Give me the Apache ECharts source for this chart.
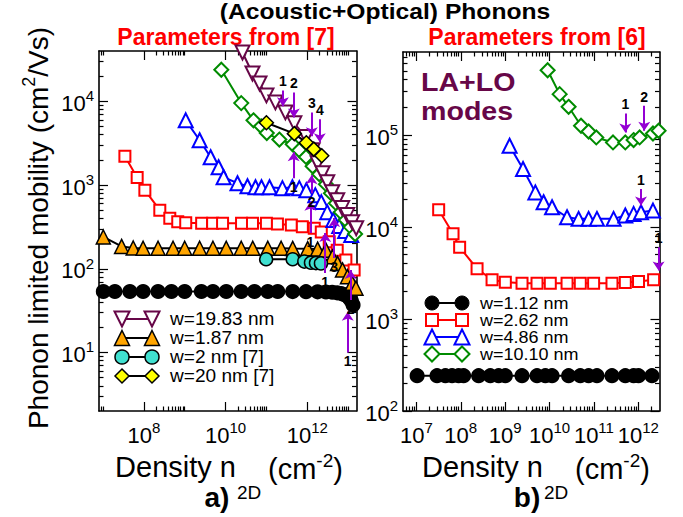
<!DOCTYPE html>
<html>
<head>
<meta charset="utf-8">
<title>Phonon limited mobility</title>
<script src="https://cdn.jsdelivr.net/npm/echarts@6/dist/echarts.min.js"></script>
<style>
html, body { margin: 0; padding: 0; background: #ffffff; }
#chart { width: 683px; height: 517px; }
</style>
</head>
<body>
<div id="chart"></div>
<script>
// ---------------- Panel a) : parameters from [7] ----------------
const aW112Density  = [1.02e7, 1.96e7, 4.56e7, 9.6e7, 2.23e8, 4.74e8, 1.0e9, 2.56e9, 4.91e9, 1.04e10, 2.42e10, 5.1e10, 1.08e11, 1.89e11, 4.39e11, 9.31e11, 1.79e12, 2.86e12, 4.07e12, 5.37e12, 6.76e12, 7.94e12, 9.55e12, 1.07e13, 1.2e13, 1.32e13];
const aW112Mobility = [53.5, 53.5, 53.5, 53.5, 53.5, 53.5, 53.5, 53.5, 53.5, 53.5, 53.5, 53.5, 53.5, 53.5, 53.4, 53.3, 53.1, 52.8, 52.4, 51.6, 50.6, 49.2, 47.2, 44.6, 41.2, 37];

const aW262Density  = [3.44e7, 6.87e7, 1.06e8, 2.46e8, 4.32e8, 6.76e8, 1.06e9, 2.6e9, 4.82e9, 8.45e9, 2.46e10, 4.56e10, 1.0e11, 1.86e11, 4.07e11, 7.57e11, 1.48e12, 2.2e12, 3.44e12, 5.4e12, 8.79e12, 1.4e13];
const aW262Mobility = [2210, 1230, 870, 502, 403, 366, 354, 349, 349, 349, 349, 349, 349, 342, 333, 318, 306, 275, 210, 167, 127, 97];

const aW486Density  = [1.06e9, 2.32e9, 4.32e9, 6.76e9, 8.95e9, 1.96e10, 3.44e10, 5.4e10, 7.57e10, 1.19e11, 2.46e11, 4.32e11, 6.38e11, 9.46e11, 1.57e12, 2.2e12, 3.08e12, 4.32e12, 6.04e12, 8.45e12, 1.19e13];
const aW486Mobility = [5940, 3430, 2150, 1635, 1240, 1054, 970, 944, 944, 944, 919, 944, 919, 869, 758, 626, 475, 382, 324, 282, 253];

const aW1010Density  = [7.87e9, 2.42e10, 4.82e10, 7.43e10, 1.02e11, 2.07e11, 4.39e11, 6.38e11, 9.31e11, 1.35e12, 1.96e12, 2.86e12, 3.79e12, 5.02e12, 6.65e12, 8.79e12, 1.16e13, 1.48e13];
const aW1010Mobility = [23900, 9540, 5940, 5040, 4190, 3500, 3070, 2610, 2170, 1680, 1350, 1025, 800, 608, 475, 382, 315, 260];

const aW1983Density  = [2.6e10, 4.56e10, 6.76e10, 1.0e11, 1.66e11, 2.91e11, 4.82e11, 9.31e11, 1.35e12, 1.79e12, 2.37e12, 3.08e12, 4.07e12, 5.4e12, 7.14e12, 9.46e12, 1.25e13, 1.57e13];
const aW1983Mobility = [38400, 21570, 16400, 11800, 9730, 7390, 5470, 3750, 2606, 1825, 1387, 1084, 823, 661, 531, 438, 361, 306];

const aW187Density  = [1.02e7, 2.86e7, 5.5e7, 9.6e7, 2.23e8, 5.19e8, 1.0e9, 2.32e9, 4.91e9, 1.04e10, 2.42e10, 4.63e10, 1.08e11, 2.29e11, 4.39e11, 1.02e12, 1.79e12, 2.86e12, 4.14e12, 5.5e12, 7.28e12, 9.62e12, 1.27e13, 1.55e13];
const aW187Mobility = [240, 185, 177, 176, 176, 176, 176, 176, 176, 176, 176, 176, 176, 176, 175, 174, 172, 167, 139, 116, 97, 80.5, 67, 58.6];

const aW2RefDensity  = [9.84e10, 4.39e11, 8.45e11, 1.23e12, 1.63e12, 2.16e12];
const aW2RefMobility = [130, 130, 122, 118, 117, 116];

const aW20RefDensity  = [9.98e10, 4.82e11, 9.46e11, 1.44e12, 2.26e12];
const aW20RefMobility = [5550, 4120, 3200, 2690, 2240];

// arrows marking subband onsets: density, tail mobility, head mobility, tag
const aArrowDensity = [2.53e11, 4.69e11, 1.29e12, 2.02e12, 4.64e11, 1.27e12, 1.19e12, 2.75e12, 4.56e12, 9.77e12, 1.15e13];
const aArrowFrom    = [13500, 12800, 7390, 6100, 1208, 800, 267, 89, 135, 10, 42.5];
const aArrowTo      = [8720, 6440, 3830, 3240, 2466, 1312, 631, 267, 404, 30.6, 97];
const aArrowTag     = ['1', '2', '3', '4', '1', '2', '1', '1', '3', '1', '2'];

// ---------------- Panel b) : parameters from [6] ----------------
const bW112Density  = [1.04e7, 2.92e7, 4.5e7, 6.37e7, 8.95e7, 1.16e8, 2.53e8, 4.63e8, 7.13e8, 1.01e9, 2.4e9, 5.22e9, 8.04e9, 1.14e10, 2.69e10, 4.93e10, 7.59e10, 1.17e11, 2.55e11, 5.09e11, 7.83e11, 1.01e12, 2.03e12];
const bW112Mobility = [242, 242, 242, 242, 242, 242, 242, 242, 242, 242, 242, 242, 242, 242, 242, 242, 242, 242, 242, 242, 242, 242, 242];

const bW262Density  = [3.18e7, 6.7e7, 9.44e7, 2.33e8, 5.07e8, 1.01e9, 2.4e9, 5.22e9, 1.04e10, 2.48e10, 4.93e10, 9.84e10, 2.55e11, 5.09e11, 1.01e12, 2.21e12];
const bW262Mobility = [15380, 8440, 6040, 3520, 2675, 2518, 2455, 2455, 2455, 2455, 2455, 2455, 2455, 2500, 2563, 2675];

const bW486Density  = [1.26e9, 2.53e9, 4.79e9, 7.36e9, 1.14e10, 2.48e10, 4.52e10, 7.59e10, 1.17e11, 2.77e11, 5.09e11, 7.83e11, 1.15e12, 2.14e12];
const bW486Mobility = [76600, 42800, 23800, 18570, 16400, 12770, 12270, 12270, 12270, 12270, 13340, 13900, 14480, 15100];

const bW1010Density  = [9.06e9, 1.69e10, 2.69e10, 5.12e10, 7.59e10, 1.13e11, 2.69e11, 5.09e11, 7.83e11, 1.07e12, 2.14e12, 2.86e12];
const bW1010Mobility = [507000, 278600, 202900, 126200, 109400, 94200, 83100, 83100, 88200, 94200, 104000, 111300];

const bArrowDensity = [5.09e11, 1.36e12, 1.15e12, 2.86e12];
const bArrowFrom    = [171600, 208000, 25900, 6040];
const bArrowTo      = [106700, 111300, 17100, 3370];
const bArrowTag     = ['1', '2', '1', '1'];

// ---------------- axes ----------------
const aDensityRange  = [8e6, 1.6e13];
const aMobilityRange = [2, 4e4];
const bDensityRange  = [5e6, 3e12];
const bMobilityRange = [100, 8e5];

const aDensityTicks  = [1e8, 1e10, 1e12];
const aMobilityTicks = [1e1, 1e2, 1e3, 1e4];
const bDensityTicks  = [1e7, 1e8, 1e9, 1e10, 1e11, 1e12];
const bMobilityTicks = [1e2, 1e3, 1e4, 1e5];

const FONT = '"Liberation Sans", Arial, Helvetica, sans-serif';
const COL = {
  black: '#000000', red: '#ff0000', blue: '#0000ff', green: '#008b00',
  maroon: '#670748', orange: '#ffa500', turquoise: '#40e0d0', yellow: '#ffff00', violet: '#9400d3'
};

// minor ticks: k * 10^d inside the range, for the listed decades
function minorTicks(range, decades, kMax) {
  const out = [];
  decades.forEach(function (d) {
    for (let k = 2; k <= kMax; k++) {
      const v = k * Math.pow(10, d);
      if (v > range[0] && v < range[1]) out.push(v);
    }
  });
  return out;
}

const powRich = {
  b: { fontSize: 22, fontFamily: FONT, color: '#000', lineHeight: 26, verticalAlign: 'bottom' },
  s: { fontSize: 15, fontFamily: FONT, color: '#000', lineHeight: 15, verticalAlign: 'top' }
};
function powLabel(v) {
  return '{b|10}{s|' + Math.round(Math.log10(v)) + '}';
}

function logAxis(grid, position, range, ticks, major, labels, margin) {
  return {
    gridIndex: grid, type: 'log', logBase: 10, min: range[0], max: range[1], position: position,
    axisLine: { show: major, lineStyle: { color: '#000', width: 1.6 } },
    axisTick: { show: true, inside: true, length: major ? 9 : 4.5, customValues: ticks,
                lineStyle: { color: '#000', width: 1.2 } },
    axisLabel: labels ? { show: true, customValues: ticks, formatter: powLabel, rich: powRich, margin: margin }
                      : { show: false },
    splitLine: { show: false }, minorTick: { show: false }, minorSplitLine: { show: false }
  };
}

const aXMinor = minorTicks(aDensityRange, [6, 8, 10, 12], 10);
const aYMinor = minorTicks(aMobilityRange, [0, 1, 2, 3, 4], 9);
const bXMinor = minorTicks(bDensityRange, [6, 7, 8, 9, 10, 11, 12], 9);
const bYMinor = minorTicks(bMobilityRange, [2, 3, 4, 5], 9);

const xAxes = [
  logAxis(0, 'bottom', aDensityRange, aDensityTicks, true, true, 9),
  logAxis(0, 'bottom', aDensityRange, aXMinor, false, false),
  logAxis(0, 'top', aDensityRange, aDensityTicks, true, false),
  logAxis(0, 'top', aDensityRange, aXMinor, false, false),
  logAxis(1, 'bottom', bDensityRange, bDensityTicks, true, true, 9),
  logAxis(1, 'bottom', bDensityRange, bXMinor, false, false),
  logAxis(1, 'top', bDensityRange, bDensityTicks, true, false),
  logAxis(1, 'top', bDensityRange, bXMinor, false, false)
];
const yAxes = [
  logAxis(0, 'left', aMobilityRange, aMobilityTicks, true, true, 5),
  logAxis(0, 'left', aMobilityRange, aYMinor, false, false),
  logAxis(0, 'right', aMobilityRange, aMobilityTicks, true, false),
  logAxis(0, 'right', aMobilityRange, aYMinor, false, false),
  logAxis(1, 'left', bMobilityRange, bMobilityTicks, true, true, 5),
  logAxis(1, 'left', bMobilityRange, bYMinor, false, false),
  logAxis(1, 'right', bMobilityRange, bMobilityTicks, true, false),
  logAxis(1, 'right', bMobilityRange, bYMinor, false, false)
];

// ---------------- series ----------------
function zip(xs, ys) { return xs.map(function (x, i) { return [x, ys[i]]; }); }

function curve(name, grid, xs, ys, s) {
  return {
    name: name, type: 'line', xAxisIndex: grid * 4, yAxisIndex: grid * 4,
    data: zip(xs, ys),
    symbol: s.symbol, symbolSize: s.size, symbolRotate: s.rotate || 0,
    showAllSymbol: true,
    lineStyle: { color: s.line, width: s.lineWidth || 2 },
    itemStyle: { color: s.fill, borderColor: s.stroke, borderWidth: s.border || 2, opacity: 1 },
    emphasis: { disabled: true },
    z: s.z || 2
  };
}

function arrows(grid, xs, from, to, tags) {
  return {
    type: 'line', xAxisIndex: grid * 4, yAxisIndex: grid * 4, data: [], z: 10,
    markLine: {
      silent: true, animation: false,
      symbol: ['none', 'arrow'], symbolSize: 9,
      lineStyle: { color: COL.violet, width: 2, type: 'solid' },
      label: { show: true, position: 'start', formatter: '{b}', color: '#000',
               fontWeight: 'bold', fontSize: 14, fontFamily: FONT, distance: 2 },
      data: xs.map(function (x, i) {
        return [{ name: tags[i], coord: [x, from[i]] }, { coord: [x, to[i]] }];
      })
    }
  };
}

const series = [
  curve('w=1.12 nm', 0, aW112Density, aW112Mobility, { symbol: 'circle', size: 13, fill: COL.black, stroke: COL.black, border: 0, line: COL.black }),
  curve('w=2.62 nm', 0, aW262Density, aW262Mobility, { symbol: 'rect', size: 11, fill: '#fff', stroke: COL.red, line: COL.red }),
  curve('w=4.86 nm', 0, aW486Density, aW486Mobility, { symbol: 'triangle', size: 14, fill: '#fff', stroke: COL.blue, line: COL.blue }),
  curve('w=10.10 nm', 0, aW1010Density, aW1010Mobility, { symbol: 'diamond', size: 14, fill: '#fff', stroke: COL.green, line: COL.green }),
  curve('w=19.83 nm', 0, aW1983Density, aW1983Mobility, { symbol: 'triangle', rotate: 180, size: 14, fill: '#fff', stroke: COL.maroon, line: COL.maroon }),
  curve('w=1.87 nm', 0, aW187Density, aW187Mobility, { symbol: 'triangle', size: 14, fill: COL.orange, stroke: COL.black, border: 1.5, line: COL.black }),
  curve('w=2 nm [7]', 0, aW2RefDensity, aW2RefMobility, { symbol: 'circle', size: 13, fill: COL.turquoise, stroke: COL.black, border: 1.5, line: COL.black }),
  curve('w=20 nm [7]', 0, aW20RefDensity, aW20RefMobility, { symbol: 'diamond', size: 14, fill: COL.yellow, stroke: COL.black, border: 1.5, line: COL.black }),
  arrows(0, aArrowDensity, aArrowFrom, aArrowTo, aArrowTag),

  curve('w=1.12 nm', 1, bW112Density, bW112Mobility, { symbol: 'circle', size: 13, fill: COL.black, stroke: COL.black, border: 0, line: COL.black }),
  curve('w=2.62 nm', 1, bW262Density, bW262Mobility, { symbol: 'rect', size: 11, fill: '#fff', stroke: COL.red, line: COL.red }),
  curve('w=4.86 nm', 1, bW486Density, bW486Mobility, { symbol: 'triangle', size: 14, fill: '#fff', stroke: COL.blue, line: COL.blue }),
  curve('w=10.10 nm', 1, bW1010Density, bW1010Mobility, { symbol: 'diamond', size: 14, fill: '#fff', stroke: COL.green, line: COL.green }),
  arrows(1, bArrowDensity, bArrowFrom, bArrowTo, bArrowTag)
];

// ---------------- legends and captions ----------------
function legendSymbol(type, cx, cy, size, fill, stroke, lw) {
  const h = size / 2;
  const style = { fill: fill, stroke: stroke, lineWidth: lw };
  if (type === 'circle') return { type: 'circle', shape: { cx: cx, cy: cy, r: h }, style: style };
  if (type === 'rect') return { type: 'rect', shape: { x: cx - h, y: cy - h, width: size, height: size }, style: style };
  let pts;
  if (type === 'triangle') pts = [[cx, cy - h], [cx + h, cy + h], [cx - h, cy + h]];
  else if (type === 'triangleDown') pts = [[cx - h, cy - h], [cx + h, cy - h], [cx, cy + h]];
  else pts = [[cx, cy - h], [cx + h, cy], [cx, cy + h], [cx - h, cy]];
  return { type: 'polygon', shape: { points: pts }, style: style };
}

function legendBlock(entries, x0, x1, xText, rows, fontSize) {
  const els = [];
  entries.forEach(function (e, i) {
    const y = rows[i];
    els.push({ type: 'line', shape: { x1: x0, y1: y, x2: x1, y2: y }, style: { stroke: e.line, lineWidth: 2 } });
    els.push(legendSymbol(e.symbol, x0, y, e.size, e.fill, e.stroke, e.lw));
    els.push(legendSymbol(e.symbol, x1, y, e.size, e.fill, e.stroke, e.lw));
    els.push({ type: 'text', x: xText, y: y, scaleX: 1.06,
               style: { text: e.label, font: fontSize + 'px ' + FONT, fill: '#000', textAlign: 'left', textVerticalAlign: 'middle' } });
  });
  return els;
}

const aLegend = [
  { label: 'w=19.83 nm', symbol: 'triangleDown', size: 15, fill: '#fff', stroke: COL.maroon, lw: 2, line: COL.maroon },
  { label: 'w=1.87 nm', symbol: 'triangle', size: 15, fill: COL.orange, stroke: '#000', lw: 1.5, line: '#000' },
  { label: 'w=2 nm [7]', symbol: 'circle', size: 14, fill: COL.turquoise, stroke: '#000', lw: 1.5, line: '#000' },
  { label: 'w=20 nm [7]', symbol: 'diamond', size: 14, fill: COL.yellow, stroke: '#000', lw: 1.5, line: '#000' }
];
const bLegend = [
  { label: 'w=1.12 nm', symbol: 'circle', size: 14, fill: '#000', stroke: '#000', lw: 1, line: '#000' },
  { label: 'w=2.62 nm', symbol: 'rect', size: 12, fill: '#fff', stroke: COL.red, lw: 2, line: COL.red },
  { label: 'w=4.86 nm', symbol: 'triangle', size: 15, fill: '#fff', stroke: COL.blue, lw: 2, line: COL.blue },
  { label: 'w=10.10 nm', symbol: 'diamond', size: 15, fill: '#fff', stroke: COL.green, lw: 2, line: COL.green }
];

function txt(x, y, text, font, color, align, extra) {
  return Object.assign({ type: 'text', x: x, y: y,
    style: { text: text, font: font, fill: color, textAlign: align || 'center', textVerticalAlign: 'middle' } }, extra || {});
}

const supRich = {
  m: { fontSize: 28, fontFamily: FONT, lineHeight: 32, verticalAlign: 'bottom', fill: '#000', color: '#000' },
  u: { fontSize: 18, fontFamily: FONT, lineHeight: 18, verticalAlign: 'top', fill: '#000', color: '#000' }
};
const titleRich = {
  m: { fontSize: 29, fontFamily: FONT, lineHeight: 32, verticalAlign: 'bottom', fill: '#000', color: '#000' },
  u: { fontSize: 19, fontFamily: FONT, lineHeight: 19, verticalAlign: 'top', fill: '#000', color: '#000' }
};

function densityTitle(xN, y) {
  return [
    txt(xN, y, 'Density n', '29px ' + FONT, '#000', 'right'),
    txt(xN + 1, y + 25, '2D', '19px ' + FONT, '#000', 'left'),
    { type: 'text', x: xN + 32, y: y - 16,
      style: { text: '{m|(cm}{u|-2}{m|)}', rich: titleRich, textAlign: 'left', textVerticalAlign: 'top' } }
  ];
}

const graphics = [].concat(
  [
    txt(385, 11.5, '(Acoustic+Optical) Phonons', 'bold 22px ' + FONT, '#000', 'center', { scaleX: 1.12 }),
    txt(226, 37, 'Parameters from [7]', 'bold 23px ' + FONT, COL.red),
    txt(537, 37, 'Parameters from [6]', 'bold 23px ' + FONT, COL.red),
    { type: 'text', x: 421, y: 67, scaleX: 1.1,
      style: { text: 'LA+LO\nmodes', font: 'bold 26px ' + FONT, fill: COL.maroon, lineHeight: 29.5, textAlign: 'left', textVerticalAlign: 'top' } },
    { type: 'text', x: 36, y: 228, rotation: Math.PI / 2,
      style: { text: '{m|Phonon limited mobility (cm}{u|2}{m|/Vs)}', rich: supRich, textAlign: 'center', textVerticalAlign: 'middle' } },
    txt(217, 497, 'a)', 'bold 28px ' + FONT, '#000'),
    txt(527, 497, 'b)', 'bold 28px ' + FONT, '#000')
  ],
  densityTitle(236, 467),
  densityTitle(543, 467),
  legendBlock(aLegend, 122, 152, 170, [319, 338, 357, 376], 18),
  legendBlock(bLegend, 432, 462, 480, [303, 320, 337, 354], 17)
);

const chart = echarts.init(document.getElementById('chart'), null, { renderer: 'svg' });
chart.setOption({
  animation: false,
  backgroundColor: '#ffffff',
  textStyle: { fontFamily: FONT },
  grid: [
    { left: 99, top: 51, width: 257.5, height: 360 },
    { left: 403, top: 52, width: 256.5, height: 359 }
  ],
  xAxis: xAxes,
  yAxis: yAxes,
  series: series,
  graphic: { elements: graphics }
});
</script>
</body>
</html>
